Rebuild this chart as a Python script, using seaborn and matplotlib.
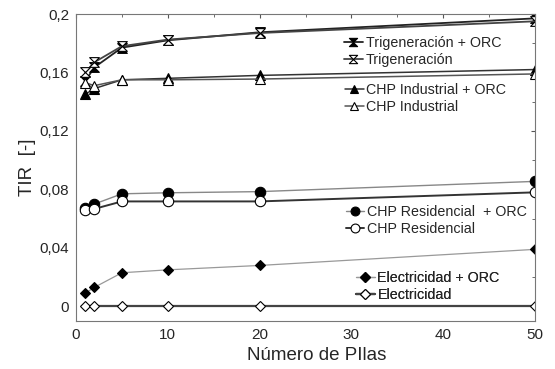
import numpy as np
import pandas as pd
import matplotlib
matplotlib.use("Agg")
import matplotlib.pyplot as plt
from matplotlib.path import Path
from matplotlib.ticker import MultipleLocator, FuncFormatter
import seaborn as sns

pilas = [1, 2, 5, 10, 20, 50]
trig_orc = [0.154, 0.1635, 0.177, 0.182, 0.1875, 0.197]
trig = [0.160, 0.167, 0.178, 0.1825, 0.187, 0.195]
chpi_orc = [0.145, 0.149, 0.155, 0.156, 0.158, 0.162]
chpi = [0.153, 0.151, 0.155, 0.155, 0.1555, 0.159]
chpr_orc = [0.067, 0.070, 0.077, 0.0777, 0.0785, 0.0855]
chpr = [0.066, 0.0667, 0.0718, 0.0718, 0.0718, 0.078]
elec_orc = [0.009, 0.013, 0.023, 0.025, 0.028, 0.039]
elec = [0, 0, 0, 0, 0, 0]

labels = ["Trigeneración + ORC", "Trigeneración",
          "CHP Industrial + ORC", "CHP Industrial",
          "CHP Residencial  + ORC", "CHP Residencial",
          "Electricidad + ORC", "Electricidad"]

sns.set_style("white")
plt.rcParams['font.family'] = ['Liberation Sans', 'DejaVu Sans']

hourglass = Path([(-1, 1), (1, 1), (0, 0), (1, -1), (-1, -1), (0, 0), (-1, 1)],
                 [Path.MOVETO, Path.LINETO, Path.LINETO, Path.LINETO,
                  Path.LINETO, Path.LINETO, Path.CLOSEPOLY])

fig = plt.figure(figsize=(5.55, 3.69), dpi=100)
ax = fig.add_axes([76/555, 1-321/369, 459/555, 307/369])

series = [
    (trig_orc, hourglass, "black", "#222222", 1.3, 7),
    (trig, hourglass, "white", "#444444", 1.3, 7),
    (chpi_orc, "^", "black", "#333333", 1.1, 7),
    (chpi, "^", "white", "#555555", 1.1, 7),
    (chpr_orc, "o", "black", "#888888", 1.0, 7.5),
    (chpr, "o", "white", "#333333", 1.4, 7.5),
    (elec_orc, "D", "black", "#999999", 0.9, 5.5),
    (elec, "D", "white", "#444444", 1.6, 5.5),
]
handles = []
for (vals, mk, fc, lc, lw, ms), lab in zip(series, labels):
    df = pd.DataFrame({"x": pilas, "y": vals})
    sns.lineplot(data=df, x="x", y="y", ax=ax, marker=mk, color=lc, lw=lw,
                 markersize=ms, markerfacecolor=fc, markeredgecolor="black",
                 markeredgewidth=0.8, label=lab, legend=False)
    handles.append(ax.lines[-1])

ax.set_xlim(0, 50)
ax.set_ylim(-0.01, 0.2)
ax.xaxis.set_major_locator(MultipleLocator(10))
ax.xaxis.set_minor_locator(MultipleLocator(5))
ax.yaxis.set_major_locator(MultipleLocator(0.04))
ax.yaxis.set_minor_locator(MultipleLocator(0.02))

def yfmt(v, p):
    if abs(v) < 1e-9:
        return "0"
    s = f"{v:.2f}".rstrip("0")
    return s.replace(".", ",")
ax.yaxis.set_major_formatter(FuncFormatter(yfmt))
ax.tick_params(which="both", direction="in", top=True, right=True,
               labelsize=11, color="#555555", pad=5)
ax.tick_params(which="major", length=3)
ax.tick_params(which="minor", length=2)
for s in ax.spines.values():
    s.set_color("#777777")
    s.set_linewidth(0.8)
ax.set_xlabel("Número de PIlas", fontsize=13.5)
ax.set_ylabel("TIR  [-]", fontsize=13.5)
ax.xaxis.set_label_coords(0.525, -0.085)
ax.yaxis.set_label_coords(-0.088, 0.5)

groups = [(0, 0.584, 0.879), (2, 0.586, 0.725), (4, 0.588, 0.328), (6, 0.61, 0.112)]
for i, x0, y0 in groups:
    leg = ax.legend(handles[i:i+2], labels[i:i+2], loc="center left",
                    bbox_to_anchor=(x0, y0), frameon=False, fontsize=10.3,
                    handlelength=1.3, handletextpad=0.2, labelspacing=0.22,
                    borderpad=0, borderaxespad=0, markerscale=0.85)
    ax.add_artist(leg)

fig.savefig("out.png", dpi=100)
